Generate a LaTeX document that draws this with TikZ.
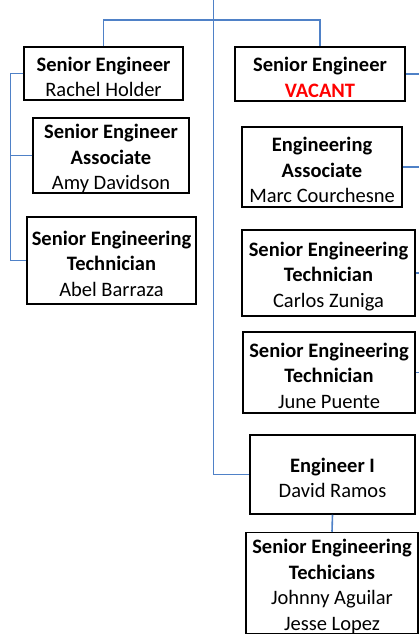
\documentclass[tikz,border=0pt]{standalone}
\usepackage{fontspec}
\setmainfont{Carlito}
\newcommand\myup{\rule{0pt}{21pt}}
\begin{document}
\begin{tikzpicture}[x=1pt,y=-1pt,
  box/.style={draw=black,line width=1.5pt,inner sep=0pt,align=center,
    font=\fontsize{20.5}{25.5}\selectfont},
  conn/.style={draw=blueline,line width=1.6pt}]
\definecolor{blueline}{RGB}{79,129,199}
\definecolor{vac}{RGB}{255,0,0}
\useasboundingbox (0,0) rectangle (419,637);
\node[box,minimum width=159pt,minimum height=53pt] (rachel) at (103.5,73.5) {\myup\textbf{Senior Engineer}\\Rachel Holder};
\node[box,minimum width=156pt,minimum height=75pt] (amy) at (111,155.5) {\myup\textbf{Senior Engineer}\\\textbf{Associate}\\Amy Davidson};
\node[box,minimum width=169pt,minimum height=87pt] (abel) at (111.5,260.5) {\myup\textbf{Senior Engineering}\\\textbf{Technician}\\Abel Barraza};
\node[box,minimum width=170pt,minimum height=54pt] (vacant) at (320,74) {\myup\textbf{Senior Engineer}\\\textcolor{vac}{\textbf{VACANT}}};
\node[box,minimum width=160pt,minimum height=80pt] (marc) at (322,167) {\myup\textbf{Engineering}\\\textbf{Associate}\\Marc Courchesne};
\node[box,minimum width=173pt,minimum height=86pt] (carlos) at (328.5,273) {\myup\textbf{Senior Engineering}\\\textbf{Technician}\\Carlos Zuniga};
\node[box,minimum width=172pt,minimum height=81pt] (june) at (329,372.5) {\myup\textbf{Senior Engineering}\\\textbf{Technician}\\June Puente};
\node[box,minimum width=165pt,minimum height=79pt] (eng1) at (332.5,474.5) {\myup\textbf{Engineer I}\\David Ramos};
\node[box,minimum width=172pt,minimum height=101pt] (johnny) at (332,583) {\myup\textbf{Senior Engineering}\\\textbf{Techicians}\\Johnny Aguilar\\Jesse Lopez};
\coordinate (top) at (213.5,0);
\coordinate (tj) at (213.5,20);
\coordinate (lb) at (10.5,73.5);
\coordinate (re) at (419,0);
\draw[conn] (rachel.north) |- (tj) -| (vacant.north);
\draw[conn] (top) |- (eng1.west);
\draw[conn] (rachel.west) -- (lb) |- (abel.west);
\draw[conn] (amy.west) -- (amy.west -| lb);
\draw[conn] (vacant.east) -- (vacant.east -| re);
\draw[conn] (marc.east) -- (marc.east -| re);
\draw[conn] (carlos.east) -- (carlos.east -| re);
\draw[conn] (june.east) -- (june.east -| re);
\draw[conn] (eng1.south) -- (johnny.north);
\end{tikzpicture}
\end{document}
